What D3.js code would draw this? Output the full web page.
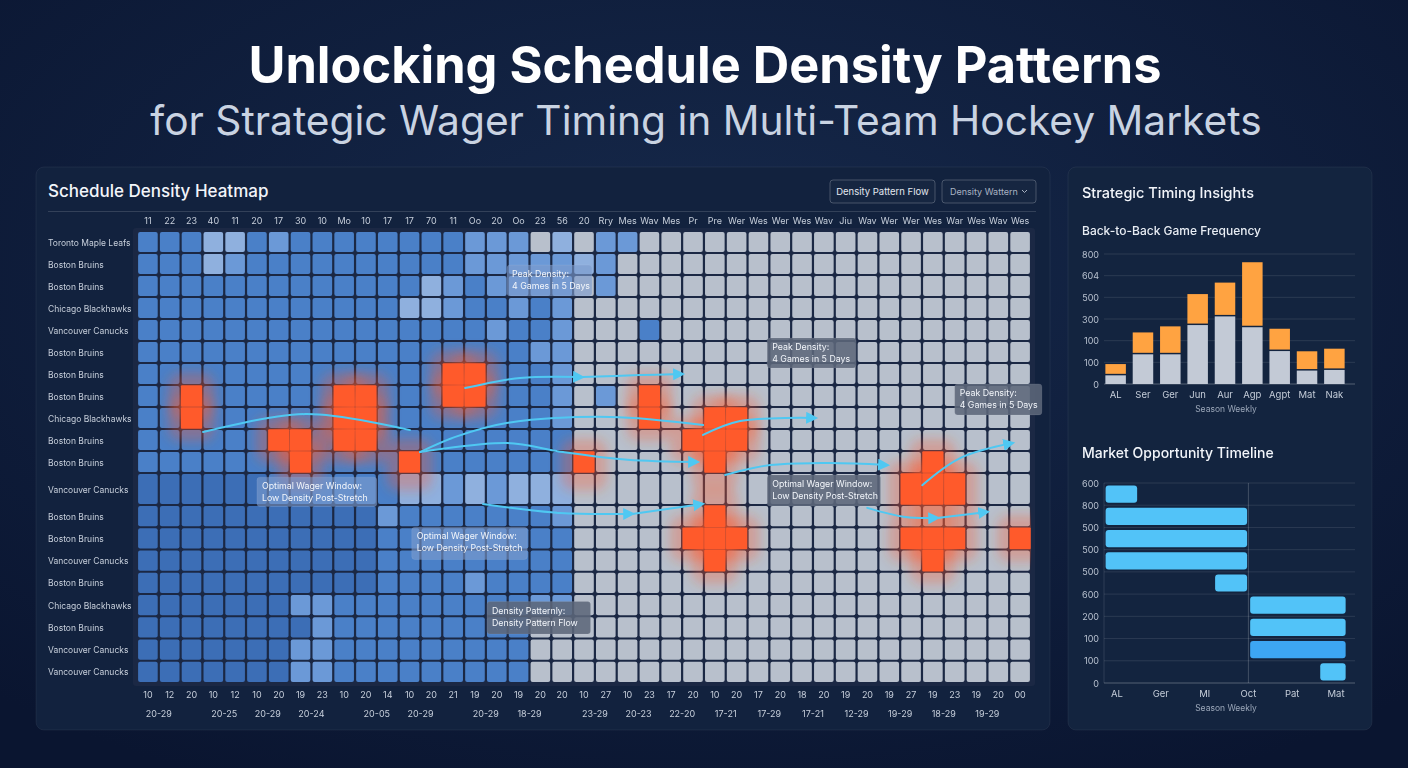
<!DOCTYPE html>
<html><head><meta charset="utf-8">
<script src="https://cdn.jsdelivr.net/npm/d3@7"></script>
<style>
html,body{margin:0;padding:0;background:#0c1a33;}
svg{display:block;font-family:Inter,"Open Sans",sans-serif;}
</style></head><body>
<svg id="c" width="1408" height="768"></svg>
<script>
// ---------- DATA ----------
const rowLabels = ["Toronto Maple Leafs","Boston Bruins","Boston Bruins","Chicago Blackhawks","Vancouver Canucks","Boston Bruins","Boston Bruins","Boston Bruins","Chicago Blackhawks","Boston Bruins","Boston Bruins","Vancouver Canucks","Boston Bruins","Boston Bruins","Vancouver Canucks","Boston Bruins","Chicago Blackhawks","Boston Bruins","Vancouver Canucks","Vancouver Canucks"];
const topLabels = ["11","22","23","40","11","20","17","30","10","Mo","10","17","17","70","11","Oo","20","Oo","23","56","20","Rry","Mes","Wav","Mes","Pr","Pre","Wer","Wes","Wer","Wes","Wav","Jiu","Wav","Wer","Wer","Wes","War","Wes","Wav","Wes"];
const bottomLabels = ["10","12","20","10","12","10","20","19","23","10","20","14","10","20","21","19","20","19","20","20","10","27","10","23","17","20","10","20","17","20","18","20","19","20","19","27","19","23","19","20","00"];
const yearLabels = ["20-29","20-25","20-29","20-24","20-05","20-29","20-29","18-29","23-29","20-23","22-20","17-21","17-29","17-21","12-29","19-29","18-29","19-29"];
const yearLabelCols = [1,4,6,8,11,13,16,18,21,23,25,27,29,31,33,35,37,39];
// density level per cell: 1 low (gray) .. 5 high (dark blue), 9 = peak
const densityRows = [
"4442243444"+"4444433312"+"1331111111"+"11111111111",
"4442344444"+"4444433333"+"2311111111"+"11111111111",
"4444444444"+"4442343333"+"1311111111"+"11111111111",
"4444444444"+"4422344343"+"1111111111"+"11111111111",
"4444444444"+"4444443443"+"1114111111"+"11111111111",
"4444444444"+"4444444433"+"1111111111"+"11111111111",
"4444444444"+"4444994443"+"1111111111"+"11111111111",
"4494444449"+"9444994443"+"1319111111"+"11111111111",
"4494444449"+"9444444443"+"1119119911"+"11111111111",
"4444449949"+"9444444444"+"1111199911"+"11111111111",
"4444444944"+"4494444444"+"9111119111"+"11111191111",
"5555554444"+"4422323222"+"1111111111"+"11111999111",
"5555555555"+"5344444443"+"1111119111"+"11111111111",
"5555555555"+"5444444444"+"1111199911"+"11111999119",
"5555555555"+"5444444444"+"1111119111"+"11111191111",
"5555555555"+"5444434444"+"1111111111"+"11111111111",
"5555555334"+"4444444433"+"1111111111"+"11111111111",
"5555555534"+"4444444411"+"1111111111"+"11111111111",
"5555555334"+"4444444411"+"1111111111"+"11111111111",
"5555555334"+"4444444411"+"1111111111"+"11111111111"
];
const annotations = [
 {c0:16.97,r0:1.55,c1:20.87,r1:2.95,lines:["Peak Density:","4 Games in 5 Days"]},
 {c0:28.9,r0:4.86,c1:32.98,r1:6.23,lines:["Peak Density:","4 Games in 5 Days"]},
 {c0:37.5,r0:6.95,c1:41.5,r1:8.36,lines:["Peak Density:","4 Games in 5 Days"]},
 {c0:5.5,r0:11.13,c1:11.0,r1:12.07,lines:["Optimal Wager Window:","Low Density Post-Stretch"]},
 {c0:12.6,r0:13.0,c1:17.9,r1:14.45,lines:["Optimal Wager Window:","Low Density Post-Stretch"]},
 {c0:28.9,r0:11.06,c1:34.1,r1:12.05,lines:["Optimal Wager Window:","Low Density Post-Stretch"]},
 {c0:16.05,r0:16.34,c1:20.8,r1:17.8,lines:["Density Patternly:","Density Pattern Flow"]}
];
const flowArrows = [
 {pts:[[3.03,9.14],[7.75,8.32],[12.52,9.05]],head:false},
 {pts:[[15.05,7.14],[17.57,6.68],[20.41,6.64]],head:true},
 {pts:[[20.41,6.64],[23.07,6.55],[25.0,6.5]],head:true},
 {pts:[[12.98,10.05],[14.6,9.36],[16.95,8.73],[21.7,8.45],[25.96,8.82]],head:false},
 {pts:[[25.96,9.27],[27.66,8.64],[31.1,8.5]],head:true},
 {pts:[[12.98,10.05],[16.97,9.64],[19.54,10.05],[22.5,10.4],[25.69,10.5]],head:true},
 {pts:[[15.87,11.97],[19.4,12.36],[22.71,12.4]],head:true},
 {pts:[[22.71,12.4],[25.92,11.97]],head:true},
 {pts:[[26.97,11.06],[29.04,10.64],[31.79,10.55],[34.4,10.64]],head:true},
 {pts:[[36.01,11.38],[37.75,10.32],[40.14,9.64]],head:true},
 {pts:[[33.49,12.13],[35.23,12.54],[36.7,12.58]],head:true},
 {pts:[[36.7,12.58],[38.99,12.31]],head:true}
];
const b2bCategories = ["AL","Ser","Ger","Jun","Aur","Agp","Agpt","Mat","Nak"];
const b2bBase  = [40,137,137,272,312,262,152,62,65];
const b2bExtra = [52,101,129,143,156,300,103,89,98];
const b2bTickValues = [0,100,200,300,400,500,600];
const b2bTickLabels = ["0","100","100","300","500","604","800"];
const tlTickLabels = ["0","100","100","200","600","500","500","500","800","600"];
const tlCategories = ["AL","Ger","Ml","Oct","Pat","Mat"];
const tlStarts = [-0.26,-0.26,-0.26,-0.26,2.24,3.04,3.04,3.04,4.64];
const tlEnds   = [0.46,2.97,2.97,2.97,2.97,5.22,5.22,5.22,5.22];

// ---------- DRAW ----------
const svg = d3.select("#c");
const defs = svg.append("defs");
const bg = defs.append("radialGradient").attr("id","bg").attr("cx","50%").attr("cy","35%").attr("r","75%");
bg.append("stop").attr("offset","0%").attr("stop-color","#16294b");
bg.append("stop").attr("offset","100%").attr("stop-color","#0a1530");
defs.append("filter").attr("id","glow").attr("x","-100%").attr("y","-100%").attr("width","300%").attr("height","300%")
  .append("feGaussianBlur").attr("stdDeviation",6);
const mk = defs.append("marker").attr("id","arrow").attr("markerUnits","userSpaceOnUse")
  .attr("markerWidth",14).attr("markerHeight",14).attr("refX",9).attr("refY",6).attr("orient","auto");
mk.append("path").attr("d","M0,0 L12,6 L0,12 Z").attr("fill","#4fc8f2");

svg.append("rect").attr("width",1408).attr("height",768).attr("fill","url(#bg)");

// titles
svg.append("text").attr("x",705).attr("y",83).attr("text-anchor","middle")
  .attr("font-size",50.5).attr("font-weight",700).attr("fill","#ffffff").text("Unlocking Schedule Density Patterns");
svg.append("text").attr("x",706).attr("y",135).attr("text-anchor","middle")
  .attr("font-size",40.7).attr("font-weight",400).attr("fill","#c9d3e2").text("for Strategic Wager Timing in Multi-Team Hockey Markets");

// panels
svg.append("rect").attr("x",36).attr("y",167).attr("width",1014).attr("height",563).attr("rx",8)
  .attr("fill","#12223e").attr("stroke","rgba(255,255,255,0.06)");
svg.append("rect").attr("x",1068).attr("y",167).attr("width",304).attr("height",563).attr("rx",8)
  .attr("fill","#13243f").attr("stroke","rgba(255,255,255,0.06)");

svg.append("text").attr("x",48).attr("y",197).attr("font-size",17).attr("font-weight",500).attr("fill","#f2f5fa").text("Schedule Density Heatmap");
svg.append("line").attr("x1",48).attr("x2",1036).attr("y1",211.5).attr("y2",211.5).attr("stroke","rgba(255,255,255,0.14)");

// buttons
const btns = [{x:830,w:105,t:"Density Pattern Flow",c:"#e3e8f0",chev:false},{x:942,w:94,t:"Density Wattern",c:"#a9b3c3",chev:true}];
btns.forEach(b=>{
  svg.append("rect").attr("x",b.x).attr("y",180).attr("width",b.w).attr("height",23).attr("rx",3)
    .attr("fill","rgba(255,255,255,0.02)").attr("stroke","rgba(255,255,255,0.22)");
  svg.append("text").attr("x",b.chev? b.x+8 : b.x+b.w/2).attr("y",195).attr("text-anchor",b.chev?"start":"middle")
    .attr("font-size",b.chev?9:9.5).attr("fill",b.c).text(b.t);
  if(b.chev) svg.append("path").attr("d",`M${b.x+b.w-14},${190} l2.5,2.5 l2.5,-2.5`).attr("fill","none").attr("stroke",b.c).attr("stroke-width",1);
});

// heatmap scales
const nCols = topLabels.length;
const xc = d3.scaleLinear().domain([0,nCols]).range([137,1031]);
const yr = d3.scaleLinear().domain([0,11,12,20]).range([231,473,505,683]);
const colorOf = d3.scaleOrdinal().domain([1,2,3,4,5,9]).range(["#b8c0cc","#8fb0de","#6b99d7","#4a80c8","#3c6eb6","#ff5a2b"]);
const cells = [];
densityRows.forEach((s,r)=>s.split("").forEach((ch,c)=>cells.push({r,c,v:+ch})));

defs.append("clipPath").attr("id","hmclip").append("rect")
  .attr("x",xc(0)).attr("y",yr(0)).attr("width",xc(nCols)-xc(0)).attr("height",yr(20)-yr(0));

const hm = svg.append("g");
hm.append("rect").attr("x",xc(0)-4).attr("y",yr(0)-3).attr("width",xc(nCols)-xc(0)+8).attr("height",yr(20)-yr(0)+6)
  .attr("rx",3).attr("fill","#1b2844");
const gap = 1.1;
hm.selectAll("rect.cell").data(cells.filter(d=>d.v!==9)).join("rect").attr("class","cell")
  .attr("x",d=>xc(d.c)+gap).attr("y",d=>yr(d.r)+gap)
  .attr("width",d=>xc(d.c+1)-xc(d.c)-2*gap).attr("height",d=>yr(d.r+1)-yr(d.r)-2*gap)
  .attr("rx",2).attr("fill",d=>colorOf(d.v));
const peaks = cells.filter(d=>d.v===9);
hm.append("g").attr("clip-path","url(#hmclip)").append("g").attr("filter","url(#glow)")
  .selectAll("rect").data(peaks).join("rect")
  .attr("x",d=>xc(d.c-0.55)).attr("y",d=>yr(d.r-0.55))
  .attr("width",d=>xc(d.c+1.55)-xc(d.c-0.55)).attr("height",d=>yr(d.r+1.55)-yr(d.r-0.55))
  .attr("rx",12).attr("fill","#ff5a2b").attr("opacity",0.32);
hm.selectAll("rect.peak").data(peaks).join("rect").attr("class","peak")
  .attr("x",d=>xc(d.c)+0.3).attr("y",d=>yr(d.r)+0.3)
  .attr("width",d=>xc(d.c+1)-xc(d.c)-0.6).attr("height",d=>yr(d.r+1)-yr(d.r)-0.6)
  .attr("rx",1).attr("fill",colorOf(9));

// row labels
svg.append("g").selectAll("text").data(rowLabels).join("text")
  .attr("x",48).attr("y",(d,i)=>(yr(i)+yr(i+1))/2+3.5).attr("font-size",8.5).attr("fill","#c7cfdb").text(d=>d);
// top labels
svg.append("g").selectAll("text").data(topLabels).join("text")
  .attr("x",(d,i)=>xc(i+0.5)).attr("y",224).attr("text-anchor","middle").attr("font-size",9).attr("fill","#c7cfdb").text(d=>d);
svg.append("g").selectAll("text").data(bottomLabels).join("text")
  .attr("x",(d,i)=>xc(i+0.5)).attr("y",698).attr("text-anchor","middle").attr("font-size",9).attr("fill","#c7cfdb").text(d=>d);
svg.append("g").selectAll("text").data(yearLabels).join("text")
  .attr("x",(d,i)=>xc(yearLabelCols[i])).attr("y",717).attr("text-anchor","middle").attr("font-size",9).attr("fill","#c7cfdb").text(d=>d);

// arrows
const line = d3.line().x(d=>xc(d[0])).y(d=>yr(d[1])).curve(d3.curveCatmullRom.alpha(0.5));
svg.append("g").selectAll("path").data(flowArrows).join("path")
  .attr("d",d=>line(d.pts)).attr("fill","none").attr("stroke","#4fc8f2").attr("stroke-width",2)
  .attr("stroke-linecap","round")
  .attr("marker-end",d=>d.head?"url(#arrow)":null);

// annotation boxes
const ann = svg.append("g").selectAll("g").data(annotations).join("g");
ann.each(function(a){
  const g = d3.select(this);
  const cc = Math.min(nCols-1,Math.floor((a.c0+a.c1)/2)), rr = Math.floor((a.r0+a.r1)/2);
  const under = +densityRows[rr][cc];
  const x0 = xc(a.c0), x1 = xc(a.c1), y0 = yr(a.r0), y1 = yr(a.r1);
  g.append("rect").attr("x",x0).attr("y",y0).attr("width",x1-x0).attr("height",y1-y0).attr("rx",3)
    .attr("fill", under===1 ? "rgba(92,102,122,0.88)" : "rgba(125,155,205,0.62)")
    .attr("stroke","rgba(255,255,255,0.08)");
  a.lines.forEach((t,i)=>g.append("text").attr("x",x0+5).attr("y",y0+12+i*12).attr("font-size",8.8)
    .attr("fill","#f3f6fb").text(t));
});

// ---------- right panel ----------
svg.append("text").attr("x",1082).attr("y",198).attr("font-size",14.5).attr("font-weight",500).attr("fill","#f2f5fa").text("Strategic Timing Insights");
svg.append("text").attr("x",1082).attr("y",235).attr("font-size",12).attr("font-weight",500).attr("fill","#e8edf4").text("Back-to-Back Game Frequency");

const bx = d3.scaleBand().domain(b2bCategories).range([1104,1346]).paddingInner(0.25).paddingOuter(0.05);
const by = d3.scaleLinear().domain([0,600]).range([384,254]);
const bc = svg.append("g");
bc.selectAll("line").data(b2bTickValues).join("line").attr("x1",1104).attr("x2",1355)
  .attr("y1",d=>by(d)).attr("y2",d=>by(d)).attr("stroke",d=>d===0?"rgba(255,255,255,0.28)":"rgba(255,255,255,0.1)");
bc.selectAll("text.t").data(b2bTickValues).join("text").attr("class","t").attr("x",1099).attr("y",d=>by(d)+3.5)
  .attr("text-anchor","end").attr("font-size",9).attr("fill","#b8c1cf").text((d,i)=>b2bTickLabels[i]);
bc.selectAll("rect.base").data(b2bCategories).join("rect").attr("class","base")
  .attr("x",d=>bx(d)).attr("width",bx.bandwidth()).attr("y",(d,i)=>by(b2bBase[i])).attr("height",(d,i)=>by(0)-by(b2bBase[i]))
  .attr("fill","#c3cad6");
bc.selectAll("rect.extra").data(b2bCategories).join("rect").attr("class","extra")
  .attr("x",d=>bx(d)).attr("width",bx.bandwidth()).attr("y",(d,i)=>by(b2bBase[i]+b2bExtra[i]))
  .attr("height",(d,i)=>by(b2bBase[i])-by(b2bBase[i]+b2bExtra[i])-1.5)
  .attr("fill","#ffa341");
bc.selectAll("text.c").data(b2bCategories).join("text").attr("class","c").attr("x",d=>bx(d)+bx.bandwidth()/2).attr("y",398)
  .attr("text-anchor","middle").attr("font-size",9.5).attr("fill","#c5cdd9").text(d=>d);
bc.append("text").attr("x",1226).attr("y",412).attr("text-anchor","middle").attr("font-size",8.5).attr("fill","#9ba7b9").text("Season Weekly");

svg.append("text").attr("x",1082).attr("y",458).attr("font-size",14).attr("font-weight",500).attr("fill","#f2f5fa").text("Market Opportunity Timeline");

const tx = d3.scaleLinear().domain([0,5]).range([1117,1336]);
const ty = d3.scaleLinear().domain([0,9]).range([683,483]);
const tc = svg.append("g");
tc.selectAll("line.g").data(d3.range(10)).join("line").attr("class","g").attr("x1",1104).attr("x2",1355)
  .attr("y1",d=>ty(d)).attr("y2",d=>ty(d)).attr("stroke",d=>d===0?"rgba(255,255,255,0.28)":"rgba(255,255,255,0.1)");
tc.append("line").attr("x1",tx(3)).attr("x2",tx(3)).attr("y1",ty(9)).attr("y2",ty(0)).attr("stroke","rgba(255,255,255,0.2)");
tc.append("line").attr("x1",1104).attr("x2",1104).attr("y1",ty(9)).attr("y2",ty(0)).attr("stroke","rgba(255,255,255,0.12)");
tc.selectAll("text.t").data(d3.range(10)).join("text").attr("class","t").attr("x",1099).attr("y",d=>ty(d)+3.5)
  .attr("text-anchor","end").attr("font-size",9).attr("fill","#b8c1cf").text(d=>tlTickLabels[d]);
tc.selectAll("rect").data(tlStarts).join("rect")
  .attr("x",(d,i)=>tx(d)).attr("width",(d,i)=>tx(tlEnds[i])-tx(d))
  .attr("y",(d,i)=>ty(9-i)+2.5).attr("height",(d,i)=>ty(8-i)-ty(9-i)-5)
  .attr("rx",3).attr("fill",(d,i)=>i===7?"#3da6f3":"#52c3f8");
tc.selectAll("text.c").data(tlCategories).join("text").attr("class","c").attr("x",(d,i)=>tx(i)).attr("y",697)
  .attr("text-anchor","middle").attr("font-size",9.5).attr("fill","#c5cdd9").text(d=>d);
tc.append("text").attr("x",1226).attr("y",711).attr("text-anchor","middle").attr("font-size",8.5).attr("fill","#9ba7b9").text("Season Weekly");
</script>
</body></html>
